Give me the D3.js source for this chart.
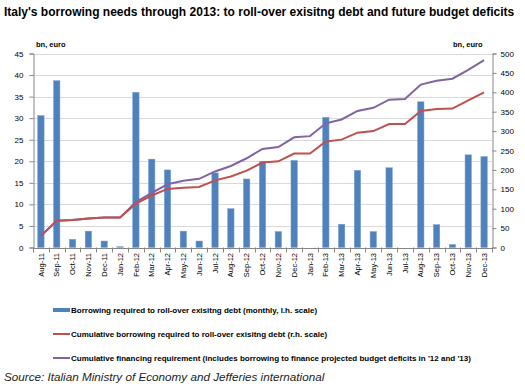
<!DOCTYPE html>
<html><head><meta charset="utf-8">
<script src="https://cdn.jsdelivr.net/npm/d3@7"></script>
<style>body{margin:0;background:#fff}svg{display:block}text{font-family:"Liberation Sans",Arial,sans-serif}</style>
</head><body><svg id="c" width="525" height="389"></svg>
<script>
const months = ["Aug-11","Sep-11","Oct-11","Nov-11","Dec-11","Jan-12","Feb-12","Mar-12","Apr-12","May-12","Jun-12","Jul-12","Aug-12","Sep-12","Oct-12","Nov-12","Dec-12","Jan-13","Feb-13","Mar-13","Apr-13","May-13","Jun-13","Jul-13","Aug-13","Sep-13","Oct-13","Nov-13","Dec-13"];
const monthlyRollover = [30.6,38.7,1.9,3.8,1.5,0.2,36.0,20.5,18.0,3.8,1.5,17.3,9.0,15.9,20.0,3.7,20.2,0,30.2,5.4,17.9,3.7,18.5,0,33.8,5.3,0.7,21.5,21.1];
const cumRollover = [30,69,71,75,77,77,113,134,151,154,156,173,183,198,219,222,242,242,273,278,296,300,318,318,352,357,358,379,400];
const cumFinancing = [30,69,71,75,77,77,117,141,163,172,177,196,210,230,254,259,284,287,320,330,352,360,381,383,420,430,435,458,483];
const leftTicks = [0,5,10,15,20,25,30,35,40,45];
const rightTicks = [0,50,100,150,200,250,300,350,400,450,500];
const titleText = "Italy's borrowing needs through 2013: to roll-over exisitng debt and future budget deficits";
const legendLabels = ["Borrowing required to roll-over exisitng debt (monthly, l.h. scale)","Cumulative borrowing required to roll-over exisitng debt (r.h. scale)","Cumulative financing requirement (includes borrowing to finance projected budget deficits in '12 and '13)"];
const sourceText = "Source: Italian Ministry of Economy and Jefferies international";

const svg = d3.select("#c");
const L = 33, R = 492, T = 53.5, B = 247.5;
const xb = d3.scaleBand().domain(months).range([L, R]);
const yL = d3.scaleLinear().domain([0,45]).range([B, T]);
const yR = d3.scaleLinear().domain([0,500]).range([B, T]);
const blue = "#4F81BD", red = "#C0504D", purple = "#8064A2";

svg.append("text").attr("x",4).attr("y",16).attr("font-weight","bold").attr("font-size",12).attr("fill","#000").text(titleText);

// grid
svg.append("g").selectAll("line").data(leftTicks.slice(1)).join("line")
  .attr("x1",L).attr("x2",R).attr("y1",d=>Math.round(yL(d))+0.5).attr("y2",d=>Math.round(yL(d))+0.5)
  .attr("stroke","#D9D9D9").attr("stroke-width",1);

// bars
svg.append("g").selectAll("rect").data(months).join("rect")
  .attr("x",(d)=>xb(d)+xb.bandwidth()/2-3.2).attr("width",6.4)
  .attr("y",(d,i)=>yL(monthlyRollover[i])).attr("height",(d,i)=>B-yL(monthlyRollover[i]))
  .attr("fill",blue).attr("stroke","#7EA1CF").attr("stroke-width",0.5);

// lines
const line = d3.line().x((d,i)=>xb(months[i])+xb.bandwidth()/2).y(d=>yR(d));
svg.append("path").datum(cumFinancing).attr("d",line).attr("fill","none").attr("stroke",purple).attr("stroke-width",2);
svg.append("path").datum(cumRollover).attr("d",line).attr("fill","none").attr("stroke",red).attr("stroke-width",2);

// axes
const axStyle = g => { g.select(".domain").attr("stroke","#868686"); g.selectAll(".tick line").attr("stroke","#868686"); g.selectAll("text").attr("font-size",8).attr("fill","#000"); };
svg.append("g").attr("transform",`translate(${L+0.5},0)`).call(d3.axisLeft(yL).tickValues(leftTicks).tickSize(4).tickSizeOuter(4).tickPadding(6)).call(axStyle);
svg.append("g").attr("transform",`translate(${R+0.5},0)`).call(d3.axisRight(yR).tickValues(rightTicks).tickSize(4).tickSizeOuter(4).tickPadding(4)).call(axStyle);
const xg = svg.append("g").attr("transform",`translate(0,${B+0.5})`).call(d3.axisBottom(xb).tickSize(0).tickSizeOuter(0)).call(axStyle);
xg.selectAll(".tick text").attr("font-size",7.5).attr("transform","rotate(-90)").attr("text-anchor","end").attr("x",-5).attr("y",0).attr("dy","0.35em");
svg.append("g").selectAll("line").data(months.concat(["_end"])).join("line")
  .attr("x1",(d,i)=>Math.round(L+i*xb.bandwidth())+0.5).attr("x2",(d,i)=>Math.round(L+i*xb.bandwidth())+0.5)
  .attr("y1",B).attr("y2",B+5).attr("stroke","#868686");

svg.append("text").attr("x",36).attr("y",47).attr("font-size",7.5).attr("font-weight","bold").text("bn, euro");
svg.append("text").attr("x",453).attr("y",47).attr("font-size",7.5).attr("font-weight","bold").text("bn, euro");

// legend
const ly = [310, 334, 358];
svg.append("rect").attr("x",53).attr("y",ly[0]-2).attr("width",17).attr("height",4).attr("fill",blue);
svg.append("line").attr("x1",53).attr("x2",70).attr("y1",ly[1]).attr("y2",ly[1]).attr("stroke",red).attr("stroke-width",2);
svg.append("line").attr("x1",53).attr("x2",70).attr("y1",ly[2]).attr("y2",ly[2]).attr("stroke",purple).attr("stroke-width",2);
svg.append("g").selectAll("text").data(legendLabels).join("text")
  .attr("x",71).attr("y",(d,i)=>ly[i]+3).attr("font-size",8).attr("font-weight","bold").text(d=>d);

svg.append("text").attr("x",4).attr("y",381).attr("font-size",11.7).attr("font-style","italic").attr("fill","#222").text(sourceText);
</script></body></html>
